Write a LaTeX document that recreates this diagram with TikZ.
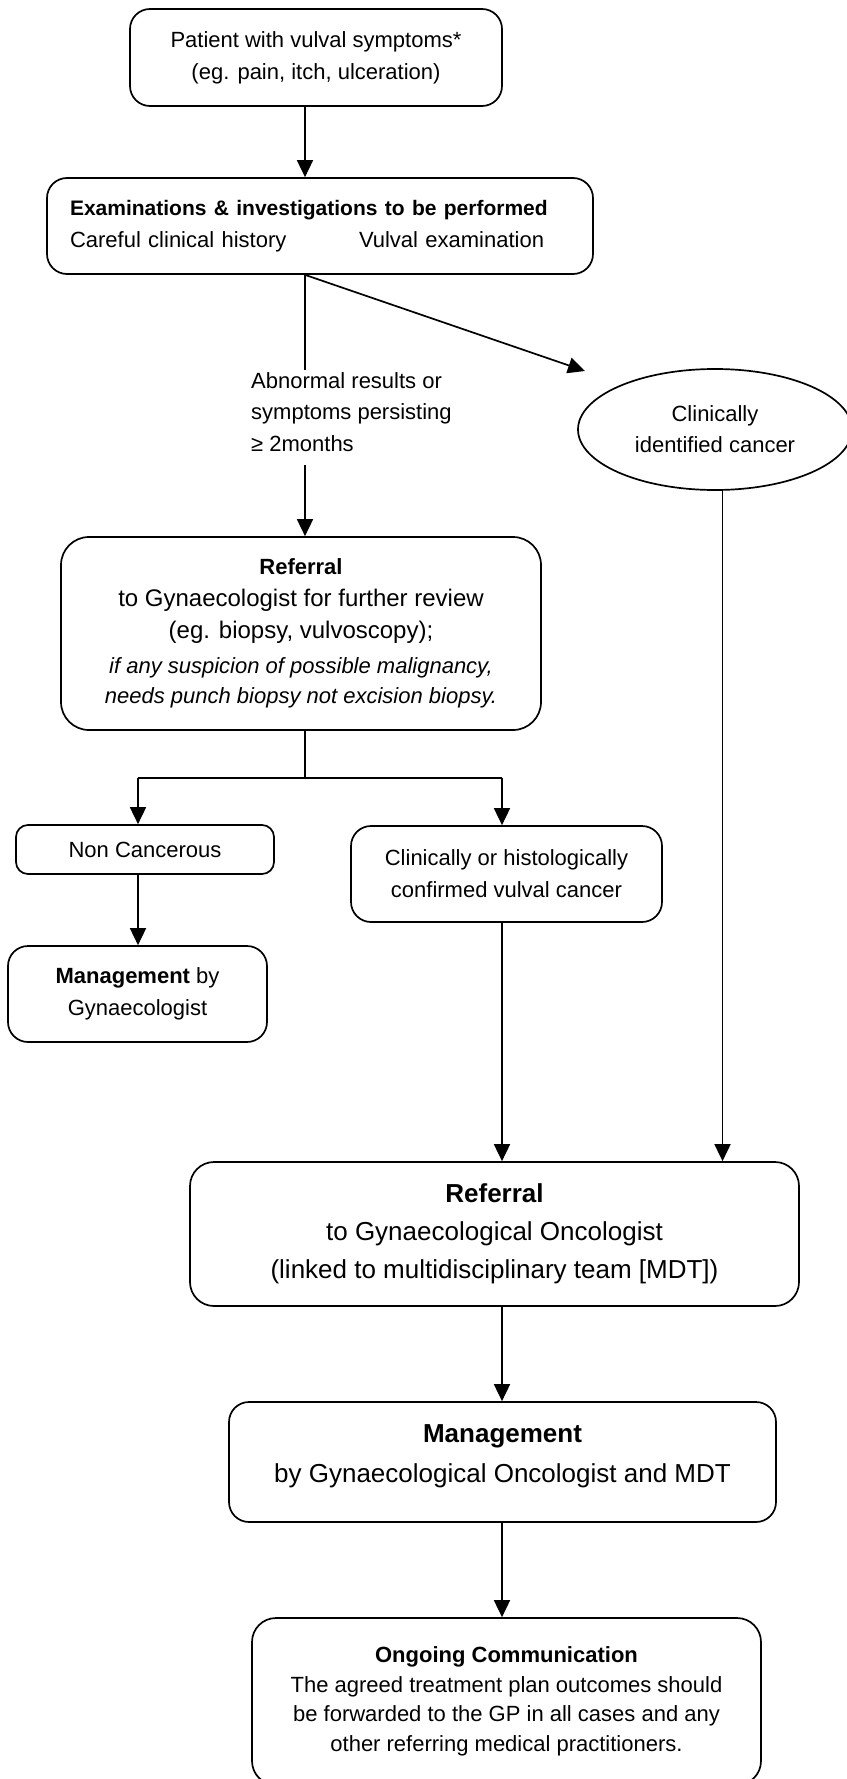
\documentclass[tikz,border=0pt]{standalone}
\usepackage{fontspec}
\setmainfont{Liberation Sans}
\usetikzlibrary{arrows.meta,shapes.geometric}
\begin{document}
\begin{tikzpicture}[x=1pt,y=-1pt,
  box/.style={draw, rounded corners=20pt, line width=1.7pt, align=center, inner sep=0pt,
    font=\fontsize{22}{32}\selectfont},
  oval/.style={draw, ellipse, line width=1.7pt, align=center, inner sep=0pt,
    font=\fontsize{22}{31}\selectfont},
  lbl/.style={align=left, inner sep=0pt, font=\fontsize{22}{31.5}\selectfont},
  arr/.style={line width=1.7pt, -{Triangle[length=17pt,width=16pt]}},
  ln/.style={line width=1.7pt}]
\useasboundingbox (0,0) rectangle (846,1779);

% nodes
\node[box, minimum width=372pt, minimum height=97pt] (b1) at (316,57.5)
  {Patient with vulval symptoms*\\(eg. pain, itch, ulceration)};
\node[box, align=left, text width=500pt, inner xsep=23pt, minimum height=96pt] (b2) at (320,226)
  {{\fontsize{21}{32}\selectfont\bfseries Examinations \& investigations to be performed}\\
   \makebox[289pt][l]{Careful clinical history}Vulval examination};
\node[lbl, anchor=west] (lab) at (251,412)
  {Abnormal results or\\symptoms persisting\\≥ 2months};
\node[oval, minimum width=274pt, minimum height=121pt] (e1) at (715,429.5)
  {Clinically\\identified cancer};
\node[box, rounded corners=28pt, minimum width=480pt, minimum height=193pt] (b3) at (301,633.5)
  {\textbf{Referral}\\
   {\fontsize{24}{32}\selectfont to Gynaecologist for further review}\\
   {\fontsize{24}{32}\selectfont (eg. biopsy, vulvoscopy);}\\[3pt]
   {\itshape if any suspicion of possible malignancy,}\\[-2pt]
   {\itshape needs punch biopsy not excision biopsy.}};
\node[box, rounded corners=12pt, minimum width=258pt, minimum height=49pt] (b4) at (145,849.5) {Non Cancerous};
\node[box, minimum width=259pt, minimum height=96pt] (mg1) at (137.5,994)
  {\textbf{Management} by\\Gynaecologist};
\node[box, minimum width=311pt, minimum height=96pt] (b5) at (506.5,874)
  {Clinically or histologically\\confirmed vulval cancer};
\node[box, rounded corners=24pt, minimum width=609pt, minimum height=144pt, font=\fontsize{26}{38}\selectfont] (b7) at (494.5,1234)
  {\textbf{Referral}\\to Gynaecological Oncologist\\(linked to multidisciplinary team [MDT])};
\node[box, minimum width=547pt, minimum height=120pt] (b8) at (502.5,1462) {};
\node[align=center, inner sep=0pt, font=\fontsize{26}{40}\selectfont] (b8t) at (502.5,1456)
  {\textbf{Management}\\by Gynaecological Oncologist and MDT};
\node[box, rounded corners=24pt, minimum width=509pt, minimum height=167pt, font=\fontsize{22}{29.5}\selectfont] (b9) at (506.5,1701.5)
  {\textbf{Ongoing Communication}\\The agreed treatment plan outcomes should\\be forwarded to the GP in all cases and any\\other referring medical practitioners.};

% helper coordinates
\coordinate (a1) at (305,370);
\coordinate (a2) at (305,465);
\coordinate (dt) at (585,371);
\coordinate (sp) at (305,778);
\coordinate (sl) at (138,778);
\coordinate (sr) at (502,778);

% connectors
\draw[arr] (a1 |- b1.south) -- (a1 |- b2.north);
\draw[ln] (a1 |- b2.south) -- (a1);
\draw[arr] (a2) -- (a2 |- b3.north);
\draw[arr] (a1 |- b2.south) -- (dt);
\draw[ln] (sp |- b3.south) -- (sp);
\draw[ln] (sl) -- (sr);
\draw[arr] (sl) -- (sl |- b4.north);
\draw[arr] (sr) -- (sr |- b5.north);
\draw[arr] (sl |- b4.south) -- (sl |- mg1.north);
\draw[arr] (sr |- b5.south) -- (sr |- b7.north);
\draw[arr] (e1.-83) -- (e1.-83 |- b7.north);
\draw[arr] (sr |- b7.south) -- (sr |- b8.north);
\draw[arr] (sr |- b8.south) -- (sr |- b9.north);
\end{tikzpicture}
\end{document}
